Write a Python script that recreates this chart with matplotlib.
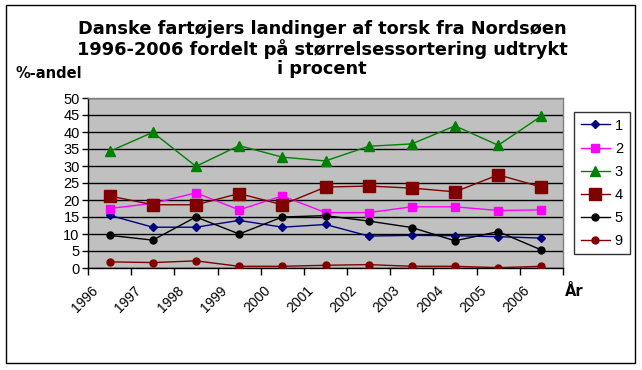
import matplotlib
matplotlib.use("Agg")
import matplotlib.pyplot as plt
from matplotlib.patches import Rectangle
from matplotlib.ticker import FixedLocator, NullFormatter
from matplotlib.transforms import ScaledTranslation

plt.rcParams['font.family'] = ['Liberation Sans', 'DejaVu Sans']

years = ['1996', '1997', '1998', '1999', '2000', '2001', '2002', '2003', '2004', '2005', '2006']
s1 = [15.5, 12.0, 12.0, 14.0, 12.0, 12.8, 9.4, 9.6, 9.5, 9.2, 8.8]
s2 = [17.5, 19.0, 22.1, 17.1, 21.2, 16.3, 16.3, 18.0, 18.0, 16.9, 17.1]
s3 = [34.3, 39.9, 29.9, 36.0, 32.6, 31.5, 35.8, 36.5, 41.8, 36.1, 44.7]
s4 = [21.2, 18.6, 18.6, 21.9, 18.6, 23.8, 24.1, 23.5, 22.4, 27.4, 23.8]
s5 = [9.6, 8.2, 15.0, 10.0, 15.0, 15.4, 13.8, 11.9, 8.0, 10.7, 5.3]
s9 = [1.8, 1.6, 2.1, 0.5, 0.5, 0.8, 1.0, 0.5, 0.5, 0.1, 0.5]
labels = ['1', '2', '3', '4', '5', '9']

W, H = 642, 370
fig = plt.figure(figsize=(W / 100, H / 100), dpi=100)
fig.patch.set_facecolor('white')

# outer border
fig.add_artist(Rectangle((6 / W, 1 - 363 / H), (635 - 6) / W, (363 - 5) / H,
                         transform=fig.transFigure, fill=False, edgecolor='black', lw=1.0))

ax = fig.add_axes([88 / W, 1 - 268 / H, (563 - 88) / W, (268 - 98) / H])
ax.set_facecolor('#C0C0C0')
for sp in ax.spines.values():
    sp.set_color('#808080')
    sp.set_linewidth(1.0)
ax.spines['left'].set_color('black')
ax.spines['bottom'].set_color('black')

x = list(range(len(years)))
styles = [
    (s1, '#000080', 'D', 4.5),
    (s2, '#FF00FF', 's', 6),
    (s3, '#008000', '^', 6.5),
    (s4, '#800000', 's', 9),
    (s5, 'black', 'o', 5),
    (s9, '#800000', 'o', 5),
]
for (vals, col, mk, ms), lab in zip(styles, labels):
    ax.plot(x, vals, color=col, marker=mk, markersize=ms, markerfacecolor=col,
            markeredgecolor=col, lw=1.0, label=lab, zorder=3)

ax.set_xlim(-0.5, len(years) - 0.5)
ax.set_ylim(0, 50)
ax.set_yticks(range(0, 51, 5))
ax.yaxis.grid(True, color='black', lw=1.0)
ax.set_axisbelow(True)
ax.tick_params(axis='y', labelsize=10.5, length=4, width=1, pad=2)
ax.xaxis.set_major_locator(FixedLocator([i - 0.5 for i in range(len(years) + 1)]))
ax.xaxis.set_major_formatter(NullFormatter())
ax.tick_params(axis='x', which='major', length=5, width=1)
ax.set_xticks(x, minor=True)
ax.set_xticklabels(years, minor=True, rotation=45, ha='right', va='top',
                   rotation_mode='anchor', fontsize=10)
ax.tick_params(axis='x', which='minor', length=0, pad=11)
shift = ScaledTranslation(-19 / 100, 0, fig.dpi_scale_trans)
for t in ax.get_xticklabels(minor=True):
    t.set_transform(t.get_transform() + shift)

bold_font = ['DejaVu Sans']
fig.text(322 / W, 1 - 49 / H,
         "Danske fartøjers landinger af torsk fra Nordsøen\n1996-2006 fordelt på størrelsessortering udtrykt\ni procent",
         ha='center', va='center', fontsize=12.8, fontweight='bold', linespacing=1.1,
         family=bold_font)
fig.text(15 / W, 1 - 73 / H, "%-andel", ha='left', va='center', fontsize=10.5,
         fontweight='bold', family=bold_font)
fig.text(574 / W, 1 - 291 / H, "År", ha='center', va='center', fontsize=10.5,
         fontweight='bold', family=bold_font)

leg = fig.legend(loc='upper left', bbox_to_anchor=(574 / W, 1 - 112 / H), borderaxespad=0,
                 fontsize=10.5, frameon=True, fancybox=False, edgecolor='black',
                 handlelength=2.0, handletextpad=0.35, labelspacing=0.62, borderpad=0.45)
leg.get_frame().set_linewidth(1.0)

fig.savefig('out.png', dpi=100)
